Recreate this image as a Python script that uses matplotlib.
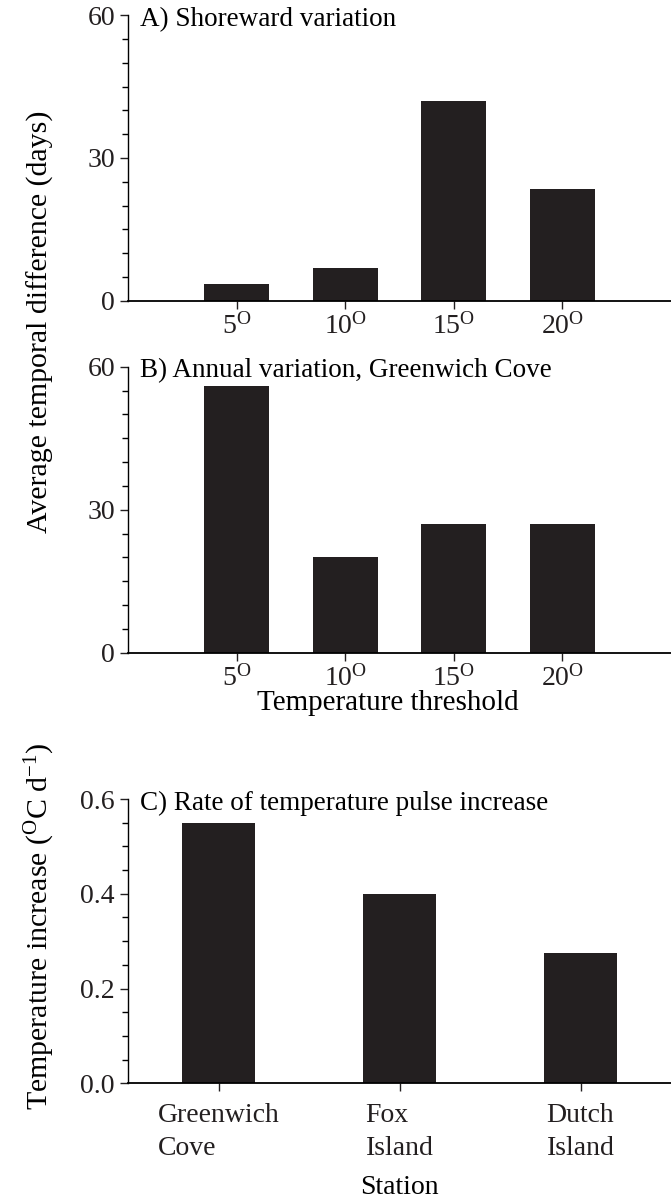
import numpy as np
import matplotlib.pyplot as plt
from matplotlib.ticker import MultipleLocator

plt.rcParams['font.family'] = ['Liberation Serif', 'DejaVu Serif']
plt.rcParams['mathtext.fontset'] = 'custom'
plt.rcParams['mathtext.rm'] = 'Liberation Serif'
plt.rcParams['mathtext.it'] = 'Liberation Serif:italic'

# temperature thresholds and day differences
thresholds = ['5', '10', '15', '20']
shoreward_days = [3.5, 7, 42, 23.5]
annual_days = [56, 20, 27, 27]

# warming rate per station
stations = ['Greenwich\nCove', 'Fox\nIsland', 'Dutch\nIsland']
warming_rate = [0.55, 0.40, 0.275]

bar_col = '#231f20'

fig = plt.figure(figsize=(6.71, 12.01), dpi=100)
axA = fig.add_axes([0.191, 0.7494, 0.809, 0.2381])
axB = fig.add_axes([0.191, 0.4565, 0.809, 0.2381])
axC = fig.add_axes([0.191, 0.0980, 0.809, 0.2367])

thr_labels = [t + r'$^{\mathrm{O}}$' for t in thresholds]
xpos = np.arange(1, len(thresholds) + 1)


def style_axis(ax):
    for s in ['top', 'right']:
        ax.spines[s].set_visible(False)
    ax.spines['left'].set_linewidth(1.0)
    ax.spines['bottom'].set_linewidth(1.3)
    ax.tick_params(axis='both', which='major', direction='out', length=6,
                   width=1.0, labelsize=20, colors='#231f20')
    ax.tick_params(axis='y', which='minor', direction='out', length=4, width=1.0)
    ax.tick_params(axis='x', which='minor', length=0)


for ax, vals, title in [(axA, shoreward_days, 'A) Shoreward variation'),
                        (axB, annual_days, 'B) Annual variation, Greenwich Cove')]:
    ax.bar(xpos, vals, width=0.6, color=bar_col)
    ax.set_xlim(0, 5)
    ax.set_ylim(0, 60)
    ax.set_yticks([0, 30, 60])
    ax.yaxis.set_minor_locator(MultipleLocator(5))
    ax.set_xticks(xpos)
    ax.set_xticklabels(thr_labels)
    style_axis(ax)
    ax.tick_params(axis='x', pad=3)
    ax.text(0.022, 0.985, title, transform=ax.transAxes, fontsize=19.5,
            va='center', ha='left')

axB.set_xlabel('Temperature threshold', fontsize=21, labelpad=0)
axB.xaxis.set_label_coords(0.478, -0.13)
fig.text(0.06, 0.732, 'Average temporal difference (days)', rotation=90,
         fontsize=21.5, ha='center', va='center')

cpos = np.arange(1, len(stations) + 1)
axC.bar(cpos, warming_rate, width=0.4, color=bar_col)
axC.set_xlim(0.5, 3.5)
axC.set_ylim(0, 0.6)
axC.set_yticks([0.0, 0.2, 0.4, 0.6])
axC.set_yticklabels(['0.0', '0.2', '0.4', '0.6'])
axC.yaxis.set_minor_locator(MultipleLocator(0.05))
axC.set_xticks(cpos)
axC.set_xticklabels(stations, multialignment='left', linespacing=1.45)
style_axis(axC)
axC.tick_params(axis='x', pad=8)
axC.text(0.022, 0.985, 'C) Rate of temperature pulse increase', transform=axC.transAxes,
         fontsize=19.5, va='center', ha='left')
axC.set_xlabel('Station', fontsize=20, labelpad=10)
fig.text(0.06, 0.229, r'Temperature increase ($^{\mathrm{O}}$C d$^{-1}$)', rotation=90,
         fontsize=21.5, ha='center', va='center')

fig.savefig('out.png', dpi=100)
